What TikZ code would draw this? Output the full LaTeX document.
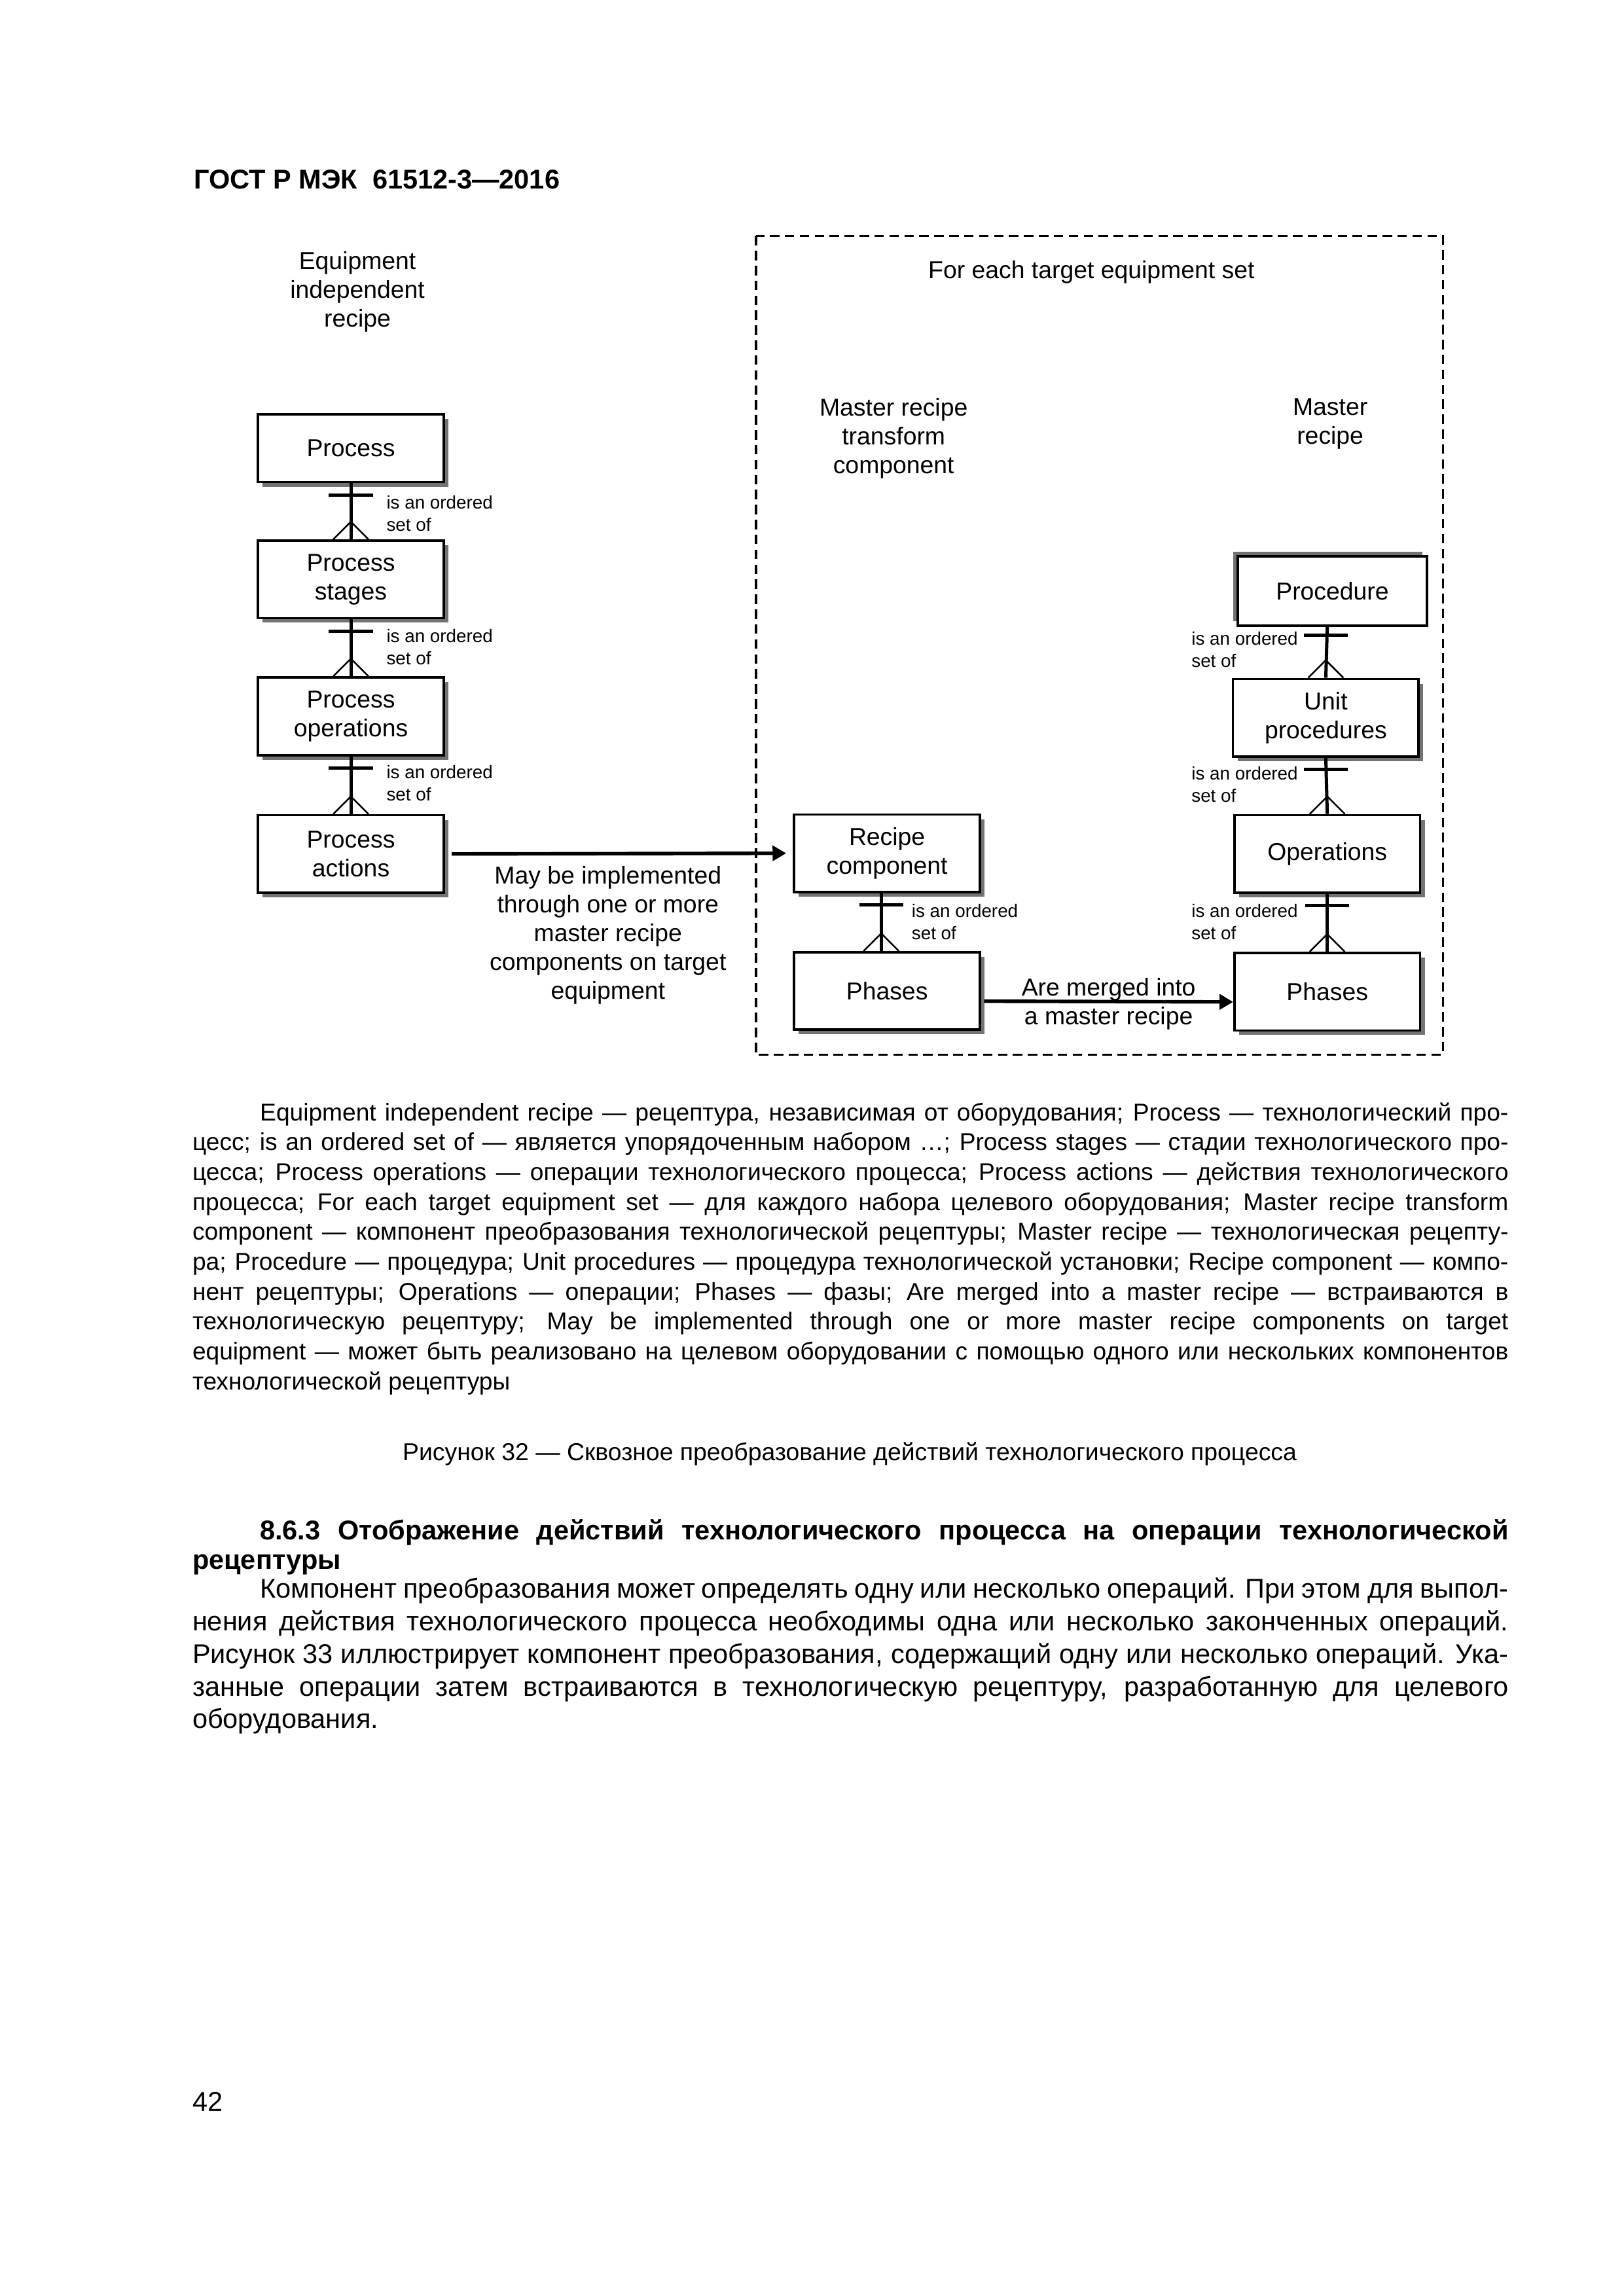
\documentclass[tikz,border=0pt]{standalone}
\usepackage{fontspec}
\setmainfont{Liberation Sans}
\usetikzlibrary{arrows.meta, calc, shadows}

\begin{document}
\begin{tikzpicture}[
	x = 0.018958cm, y = -0.018958cm, % page pixels, y runs down
	> = {Triangle[length=5pt, width=5.5pt]}, % arrow head style
	font = \fontsize{9}{10.6}\selectfont,
	]
	
	\tikzstyle{block}=[
	draw = black,
	line width = 0.9pt,
	fill = white,
	minimum width = 2.403cm,
	minimum height = 1.003cm,
	align = center,
	inner sep = 1pt
	]
	\tikzstyle{entity}=[block, drop shadow={shadow xshift=0.06cm, shadow yshift=-0.06cm, fill=black!55, opacity=1}]
	\tikzstyle{link}=[line width=1.2pt] % connector and its bar
	\tikzstyle{crow}=[line width=0.6pt] % crow's foot
	\tikzstyle{lbl}=[font=\fontsize{6.7}{8.2}\selectfont, align=left, anchor=west, inner sep=0pt]
	\tikzstyle{arrow}=[->, line width=1.3pt]
	\tikzstyle{txt}=[inner sep=0pt]
	\tikzstyle{para}=[txt, text width=17.024cm, align=justify, font=\fontsize{8.95}{11}\selectfont]
	
	% page
	\path[fill=white, use as bounding box] (0,0) rectangle (21cm,-29.705cm);
	
	\node[txt, anchor=base west, font=\bfseries\fontsize{10}{12}\selectfont] (gost) at (132,129) {ГОСТ Р МЭК~ 61512-3—2016};
	
	% titles
	\node[txt, align=center] (eir) at (244,199) {Equipment\\independent\\recipe};
	\node[txt] (each) at (745,186) {For each target equipment set};
	\node[txt, align=center] (mrtc) at (610,299.5) {Master recipe\\transform\\component};
	\node[txt, align=center] (mr) at (908,289.5) {Master\\recipe};
	
	\draw[line width=0.8pt, dash pattern=on 3.5pt off 2pt] (516,161) rectangle (985,720);
	
	% equipment independent recipe
	\node[entity, minimum height=0.874cm] (proc) at (239.5,306) {Process};
	\node[entity] (stages) at (239.5,395.5) {Process\\stages};
	\node[entity] (opers) at (239.5,489) {Process\\operations};
	\node[entity] (acts) at (239.5,583) {Process\\actions};
	
	% master recipe transform component
	\node[entity] (rcomp) at (605.5,582.5) {Recipe\\component};
	\node[entity] (mphases) at (605.5,676.5) {Phases};
	
	% master recipe
	\node[block, minimum width=2.443cm, minimum height=0.894cm, drop shadow={shadow xshift=-0.06cm, shadow yshift=0.06cm, fill=black!55, opacity=1}] (procd) at (909.5,403.5) {Procedure};
	\node[entity] (units) at (905,490) {Unit\\procedures};
	\node[entity] (ops) at (906,583) {Operations};
	\node[entity] (rphases) at (906,677) {Phases};
	
	% is an ordered set of
	\draw[link] (proc.south) -- (stages.north);
	\draw[link] ($(proc.south)+(-15,8)$) -- ++(30,0);
	\draw[crow] ($(stages.north)+(-12,0)$) -- ++(12,-12) -- ++(12,12);
	\node[lbl] (l1) at (263.5,350.5) {is an ordered\\set of};
	
	\draw[link] (stages.south) -- (opers.north);
	\draw[link] ($(stages.south)+(-15,8)$) -- ++(30,0);
	\draw[crow] ($(opers.north)+(-12,0)$) -- ++(12,-12) -- ++(12,12);
	\node[lbl] (l2) at (263.5,441.5) {is an ordered\\set of};
	
	\draw[link] (opers.south) -- (acts.north);
	\draw[link] ($(opers.south)+(-15,8)$) -- ++(30,0);
	\draw[crow] ($(acts.north)+(-12,0)$) -- ++(12,-12) -- ++(12,12);
	\node[lbl] (l3) at (263.5,534.5) {is an ordered\\set of};
	
	\draw[link] ($(rcomp.south)+(-4,0)$) -- ($(mphases.north)+(-4,0)$);
	\draw[link] ($(rcomp.south)+(-19,8)$) -- ++(30,0);
	\draw[crow] ($(mphases.north)+(-16,0)$) -- ++(12,-12) -- ++(12,12);
	\node[lbl] (l4) at (622,629.5) {is an ordered\\set of};
	
	\draw[link] ($(procd.south)+(-3.5,0)$) -- (units.north);
	\draw[link] ($(units.north)+(-15,-29)$) -- ++(30,0);
	\draw[crow] ($(units.north)+(-12,0)$) -- ++(12,-12) -- ++(12,12);
	\node[lbl] (l5) at (813,443.5) {is an ordered\\set of};
	
	\draw[link] (units.south) -- (ops.north);
	\draw[link] ($(units.south)+(-15,8)$) -- ++(30,0);
	\draw[crow] ($(ops.north)+(-12,0)$) -- ++(12,-12) -- ++(12,12);
	\node[lbl] (l6) at (813,535.5) {is an ordered\\set of};
	
	\draw[link] (ops.south) -- (rphases.north);
	\draw[link] ($(ops.south)+(-15,8)$) -- ++(30,0);
	\draw[crow] ($(rphases.north)+(-12,0)$) -- ++(12,-12) -- ++(12,12);
	\node[lbl] (l7) at (813,629.5) {is an ordered\\set of};
	
	% transforms
	\draw[arrow, shorten <=2.5pt, shorten >=2.5pt] (acts.east) -- (rcomp.west);
	\node[txt, align=center] (impl) at (415,638.5) {May be implemented\\through one or more\\master recipe\\components on target\\equipment};
	\draw[arrow] ($(mphases.east)+(2,7)$) -- ($(rphases.west)+(0,7)$)
	node[midway, txt, align=center, text depth=0pt] (merge) {Are merged into\\a master recipe};
	
	% legend, caption and text of the page
	\node[para, anchor=base west] (legend) at (131,765) {\hspace*{0.874cm}Equipment independent recipe — рецептура, независимая от оборудования; Process — технологический про-\linebreak цесс; is an ordered set of — является упорядоченным набором …; Process stages — стадии технологического про-\linebreak цесса; Process operations — операции технологического процесса; Process actions — действия технологического\linebreak процесса; For each target equipment set — для каждого набора целевого оборудования; Master recipe transform\linebreak component — компонент преобразования технологической рецептуры; Master recipe — технологическая рецепту-\linebreak ра; Procedure — процедура; Unit procedures — процедура технологической установки; Recipe component — компо-\linebreak нент рецептуры; Operations — операции; Phases — фазы; Are merged into a master recipe — встраиваются в\linebreak технологическую рецептуру; May be implemented through one or more master recipe components on target\linebreak equipment — может быть реализовано на целевом оборудовании с помощью одного или нескольких компонентов\linebreak технологической рецептуры};
	
	\node[txt, anchor=base] (caption) at (580,997) {Рисунок 32 — Сквозное преобразование действий технологического процесса};
	
	\node[para, anchor=base west, font=\bfseries\fontsize{10}{10.8}\selectfont] (sec) at (131,1051) {\hspace*{0.874cm}8.6.3 Отображение действий технологического процесса на операции технологической\linebreak рецептуры};
	
	\node[para, anchor=base west, font=\fontsize{10}{12}\selectfont] (body) at (131,1091) {\hspace*{0.874cm}Компонент преобразования может определять одну или несколько операций. При этом для выпол-\linebreak нения действия технологического процесса необходимы одна или несколько законченных операций.\linebreak Рисунок 33 иллюстрирует компонент преобразования, содержащий одну или несколько операций. Ука-\linebreak занные операции затем встраиваются в технологическую рецептуру, разработанную для целевого\linebreak оборудования.};
	
	\node[txt, anchor=base west, font=\fontsize{10}{12}\selectfont] (page) at (131,1441) {42};
	
\end{tikzpicture}
\end{document}
